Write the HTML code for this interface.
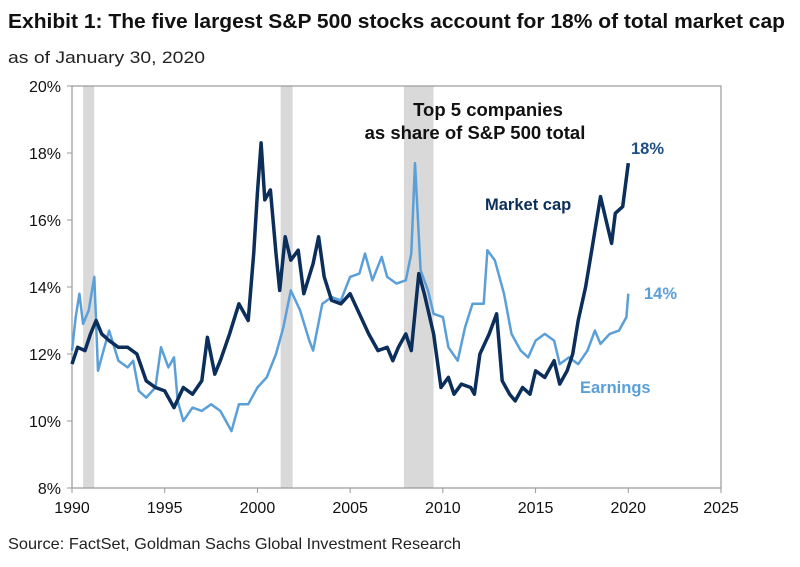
<!DOCTYPE html>
<html><head><meta charset="utf-8"><style>
body{margin:0;background:#fff;font-family:"Liberation Sans",Arial,sans-serif;}
svg text{font-family:"Liberation Sans",Arial,sans-serif;}
</style></head><body>
<svg width="800" height="562" viewBox="0 0 800 562">
<text x="8" y="28" font-size="20" font-weight="bold" fill="#111" textLength="777" lengthAdjust="spacingAndGlyphs">Exhibit 1: The five largest S&amp;P 500 stocks account for 18% of total market cap</text>
<text x="8" y="63" font-size="17" fill="#222" textLength="197" lengthAdjust="spacingAndGlyphs">as of January 30, 2020</text>
<g id="rec"></g>
<rect x="72" y="86" width="649" height="402" fill="none" stroke="#999" stroke-width="1.2"/>
<g id="axes"></g>
<g id="lines"></g>
<text x="488" y="116" font-size="18.5" font-weight="bold" fill="#111" text-anchor="middle">Top 5 companies</text>
<text x="475" y="139" font-size="18.5" font-weight="bold" fill="#111" text-anchor="middle">as share of S&amp;P 500 total</text>
<text x="485" y="210" font-size="16.5" font-weight="bold" fill="#0b2e5a">Market cap</text>
<text x="631" y="154" font-size="16.5" font-weight="bold" fill="#1f4e85">18%</text>
<text x="644" y="299" font-size="16.5" font-weight="bold" fill="#5b9fd8">14%</text>
<text x="580" y="393" font-size="16.5" font-weight="bold" fill="#5b9fd8">Earnings</text>
<text x="8" y="549" font-size="16" fill="#222" textLength="453" lengthAdjust="spacingAndGlyphs">Source: FactSet, Goldman Sachs Global Investment Research</text>
</svg>
<script>
const xTicks=[1990,1995,2000,2005,2010,2015,2020,2025];
const yTicks=[8,10,12,14,16,18,20];
const recessions=[[1990.6,1991.2],[2001.25,2001.9],[2007.9,2009.5]];
const mcapYears=[1990,1990.3,1990.7,1991,1991.3,1991.6,1992,1992.5,1993,1993.5,1994,1994.5,1995,1995.5,1996,1996.5,1997,1997.3,1997.7,1998,1998.5,1999,1999.5,1999.8,2000,2000.2,2000.4,2000.7,2001,2001.2,2001.5,2001.8,2002.2,2002.5,2003,2003.3,2003.6,2004,2004.5,2005,2005.5,2006,2006.5,2007,2007.3,2007.6,2008,2008.3,2008.7,2009,2009.5,2009.9,2010.3,2010.6,2011,2011.5,2011.7,2012,2012.5,2012.9,2013.2,2013.6,2013.9,2014.3,2014.7,2015,2015.5,2016,2016.3,2016.7,2017,2017.3,2017.7,2018,2018.5,2018.8,2019.1,2019.3,2019.7,2020];
const mcapValues=[11.7,12.2,12.1,12.6,13.0,12.6,12.4,12.2,12.2,12.0,11.2,11.0,10.9,10.4,11.0,10.8,11.2,12.5,11.4,11.8,12.6,13.5,13.0,15.0,16.8,18.3,16.6,16.9,15.0,13.9,15.5,14.8,15.1,13.8,14.7,15.5,14.3,13.6,13.5,13.8,13.2,12.6,12.1,12.2,11.8,12.2,12.6,12.1,14.4,13.8,12.6,11.0,11.3,10.8,11.1,11.0,10.8,12.0,12.6,13.2,11.2,10.8,10.6,11.0,10.8,11.5,11.3,11.8,11.1,11.5,12.0,13.0,14.0,15.0,16.7,16.0,15.3,16.2,16.4,17.7];
const earnYears=[1990,1990.2,1990.4,1990.6,1990.9,1991.2,1991.4,1991.7,1992,1992.5,1993,1993.3,1993.6,1994,1994.5,1994.8,1995.2,1995.5,1995.7,1996,1996.5,1997,1997.5,1998,1998.3,1998.6,1999,1999.5,2000,2000.5,2001,2001.4,2001.8,2002.3,2002.8,2003,2003.5,2004,2004.5,2005,2005.5,2005.8,2006.2,2006.7,2007,2007.5,2008,2008.3,2008.5,2008.8,2009.2,2009.5,2010,2010.3,2010.8,2011.2,2011.6,2012.2,2012.4,2012.8,2013.3,2013.7,2014.2,2014.6,2015,2015.5,2016,2016.3,2016.8,2017.3,2017.8,2018.2,2018.5,2019,2019.5,2019.9,2020];
const earnValues=[12.1,13.1,13.8,12.9,13.3,14.3,11.5,12.1,12.7,11.8,11.6,11.8,10.9,10.7,11.0,12.2,11.6,11.9,10.6,10.0,10.4,10.3,10.5,10.3,10.0,9.7,10.5,10.5,11.0,11.3,12.0,12.8,13.9,13.3,12.4,12.1,13.5,13.7,13.6,14.3,14.4,15.0,14.2,14.9,14.3,14.1,14.2,15.0,17.7,14.5,13.9,13.2,13.1,12.2,11.8,12.8,13.5,13.5,15.1,14.8,13.8,12.6,12.1,11.9,12.4,12.6,12.4,11.7,11.9,11.7,12.1,12.7,12.3,12.6,12.7,13.1,13.8];
const NS="http://www.w3.org/2000/svg";
const X=y=>72+(y-1990)*(649/35);
const Y=v=>488-(v-8)*(402/12);
function mk(tag,attrs,parent){const e=document.createElementNS(NS,tag);for(const k in attrs)e.setAttribute(k,attrs[k]);parent.appendChild(e);return e;}
const rec=document.getElementById('rec'),ax=document.getElementById('axes'),ln=document.getElementById('lines');
recessions.forEach(r=>{const e=mk('rect',{x:X(r[0]),y:86,width:X(r[1])-X(r[0]),height:402,fill:'#d9d9d9'},rec);

});
xTicks.forEach(t=>{mk('line',{x1:X(t),x2:X(t),y1:488,y2:493,stroke:'#999'},ax);
const e=mk('text',{x:X(t),y:513,'font-size':16,'text-anchor':'middle',fill:'#111'},ax);e.textContent=t;

});
yTicks.forEach(t=>{mk('line',{x1:67,x2:72,y1:Y(t),y2:Y(t),stroke:'#999'},ax);
const e=mk('text',{x:61,y:Y(t)+6,'font-size':16,'text-anchor':'end',fill:'#111'},ax);e.textContent=t+'%';

});
function line(xs,vs,color,w,name){const d=xs.map((x,i)=>(i?'L':'M')+X(x).toFixed(1)+','+Y(vs[i]).toFixed(1)).join('');
const e=mk('path',{d:d,fill:'none',stroke:color,'stroke-width':w,'stroke-linejoin':'round'},ln);

}
line(earnYears,earnValues,'#5b9fd8',2.5,'earnings-line');
line(mcapYears,mcapValues,'#0b2e5a',3.5,'market-cap-line');
</script>
</body></html>
